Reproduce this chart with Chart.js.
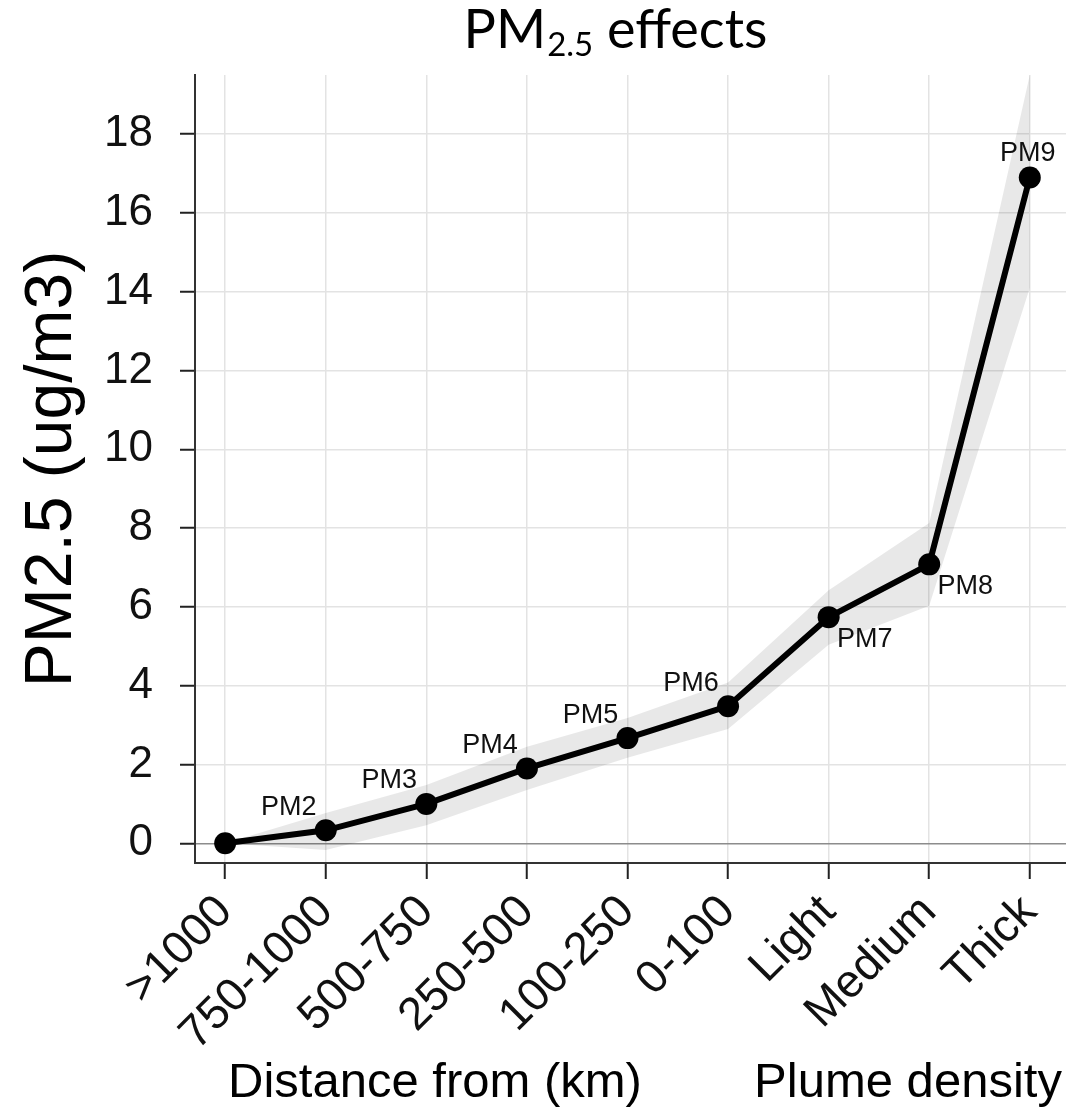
<!DOCTYPE html>
<html>
<head>
<meta charset="utf-8">
<title>PM2.5 effects</title>
<script src="https://cdn.jsdelivr.net/npm/chart.js@4.4.1/dist/chart.umd.min.js"></script>
<style>
  html, body { margin: 0; padding: 0; background: #fff; }
  #wrap { width: 1066px; height: 1109px; }
</style>
</head>
<body>
<div id="wrap"><canvas id="pmChart" width="1066" height="1109"></canvas></div>
<script>
// categories along the x axis (distance bins, then plume density)
const categories = [">1000", "750-1000", "500-750", "250-500", "100-250", "0-100", "Light", "Medium", "Thick"];
const pointNames = ["", "PM2", "PM3", "PM4", "PM5", "PM6", "PM7", "PM8", "PM9"];

// estimated PM2.5 effect and its confidence band
const pmEffect = [0, 0.33, 1.0, 1.9, 2.67, 3.48, 5.74, 7.08, 16.9];
const bandUpper = [0, 0.77, 1.48, 2.45, 3.18, 4.08, 6.42, 8.13, 19.5];
const bandLower = [0, -0.17, 0.46, 1.35, 2.17, 2.9, 5.04, 6.03, 14.1];

const yTickValues = [0, 2, 4, 6, 8, 10, 12, 14, 16, 18];

// where each point label sits relative to its marker
const labelSide = ["", "nw", "nw", "nw", "nw", "nw", "se", "se", "n"];
const labelShift = { nw: [-37, -23], se: [36, 22], n: [-2, -24] };

const FONT = "'Liberation Sans', Arial, sans-serif";

const toPoints = arr => arr.map((v, i) => ({ x: i, y: v }));

const pageText = {
    id: "pageText",
    afterDatasetsDraw(chart) {
        const ctx = chart.ctx;
        const meta = chart.getDatasetMeta(0);

        // point labels
        ctx.save();
        ctx.font = "27px " + FONT;
        ctx.fillStyle = "#111";
        ctx.textAlign = "center";
        ctx.textBaseline = "middle";
        meta.data.forEach((pt, i) => {
            if (!pointNames[i]) return;
            const s = labelShift[labelSide[i]];
            ctx.fillText(pointNames[i], pt.x + s[0], pt.y + s[1]);
        });
        ctx.restore();
    },
    afterDraw(chart) {
        const ctx = chart.ctx;
        ctx.save();
        ctx.fillStyle = "#000";
        ctx.textBaseline = "alphabetic";

        // title with subscript
        const big = "54px Lato, sans-serif";
        const small = "33px Lato, sans-serif";
        ctx.font = big;
        const wPM = ctx.measureText("PM").width;
        const wRest = ctx.measureText(" effects").width;
        ctx.font = small;
        const wSub = ctx.measureText("2.5").width;
        let x = 615 - (wPM + wSub + wRest) / 2;
        ctx.textAlign = "left";
        ctx.font = big;
        ctx.fillText("PM", x, 48);
        x += wPM;
        ctx.font = small;
        ctx.fillText("2.5", x + 1, 56);
        x += wSub + 1;
        ctx.font = big;
        ctx.fillText(" effects", x, 48);

        // the two x-axis group titles
        ctx.font = "49px " + FONT;
        ctx.textAlign = "center";
        ctx.fillText("Distance from (km)", 435, 1097);
        ctx.fillText("Plume density", 908, 1097);
        ctx.restore();
    }
};

new Chart(document.getElementById("pmChart"), {
    type: "line",
    data: {
        datasets: [{
            label: "PM2.5",
            data: toPoints(pmEffect),
            borderColor: "#000",
            backgroundColor: "#000",
            borderWidth: 6,
            pointRadius: 11,
            pointBackgroundColor: "#000",
            pointBorderWidth: 0,
            tension: 0,
            fill: false
        }, {
            label: "upper",
            data: toPoints(bandUpper),
            borderWidth: 0,
            pointRadius: 0,
            backgroundColor: "rgba(0,0,0,0.09)",
            fill: "+1"
        }, {
            label: "lower",
            data: toPoints(bandLower),
            borderWidth: 0,
            pointRadius: 0,
            fill: false
        }]
    },
    options: {
        responsive: false,
        animation: false,
        layout: { autoPadding: false, padding: { top: 75, left: 0, right: 0, bottom: 0 } },
        plugins: {
            legend: { display: false },
            tooltip: { enabled: false }
        },
        scales: {
            x: {
                type: "linear",
                min: -0.3,
                max: 8.36,
                afterBuildTicks: s => { s.ticks = categories.map((c, i) => ({ value: i })); },
                afterFit: s => { s.height = 246; s.paddingLeft = 0; s.paddingRight = 0; },
                ticks: {
                    callback: v => categories[v],
                    minRotation: 45,
                    maxRotation: 45,
                    autoSkip: false,
                    padding: 6,
                    color: "#111",
                    font: { family: FONT, size: 46 }
                },
                grid: {
                    color: "#e3e3e3",
                    lineWidth: 1.5,
                    tickLength: 16,
                    tickColor: "#222",
                    tickWidth: 2
                },
                border: { display: true, color: "#333", width: 2 }
            },
            y: {
                min: -0.5,
                max: 19.5,
                afterBuildTicks: s => { s.ticks = yTickValues.map(v => ({ value: v })); },
                afterFit: s => { s.width = 195; s.paddingTop = 0; s.paddingBottom = 0; },
                ticks: {
                    padding: 27,
                    color: "#111",
                    font: { family: FONT, size: 44 }
                },
                grid: {
                    color: c => (c.tick && c.tick.value === 0) ? "#8c8c8c" : "#e3e3e3",
                    lineWidth: 1.5,
                    tickLength: 15,
                    tickColor: "#222",
                    tickWidth: 2
                },
                border: { display: true, color: "#333", width: 2 },
                title: {
                    display: true,
                    text: "PM2.5 (ug/m3)",
                    color: "#000",
                    padding: { top: 13, bottom: 0 },
                    font: { family: FONT, size: 66 }
                }
            }
        }
    },
    plugins: [pageText]
});
</script>
</body>
</html>
